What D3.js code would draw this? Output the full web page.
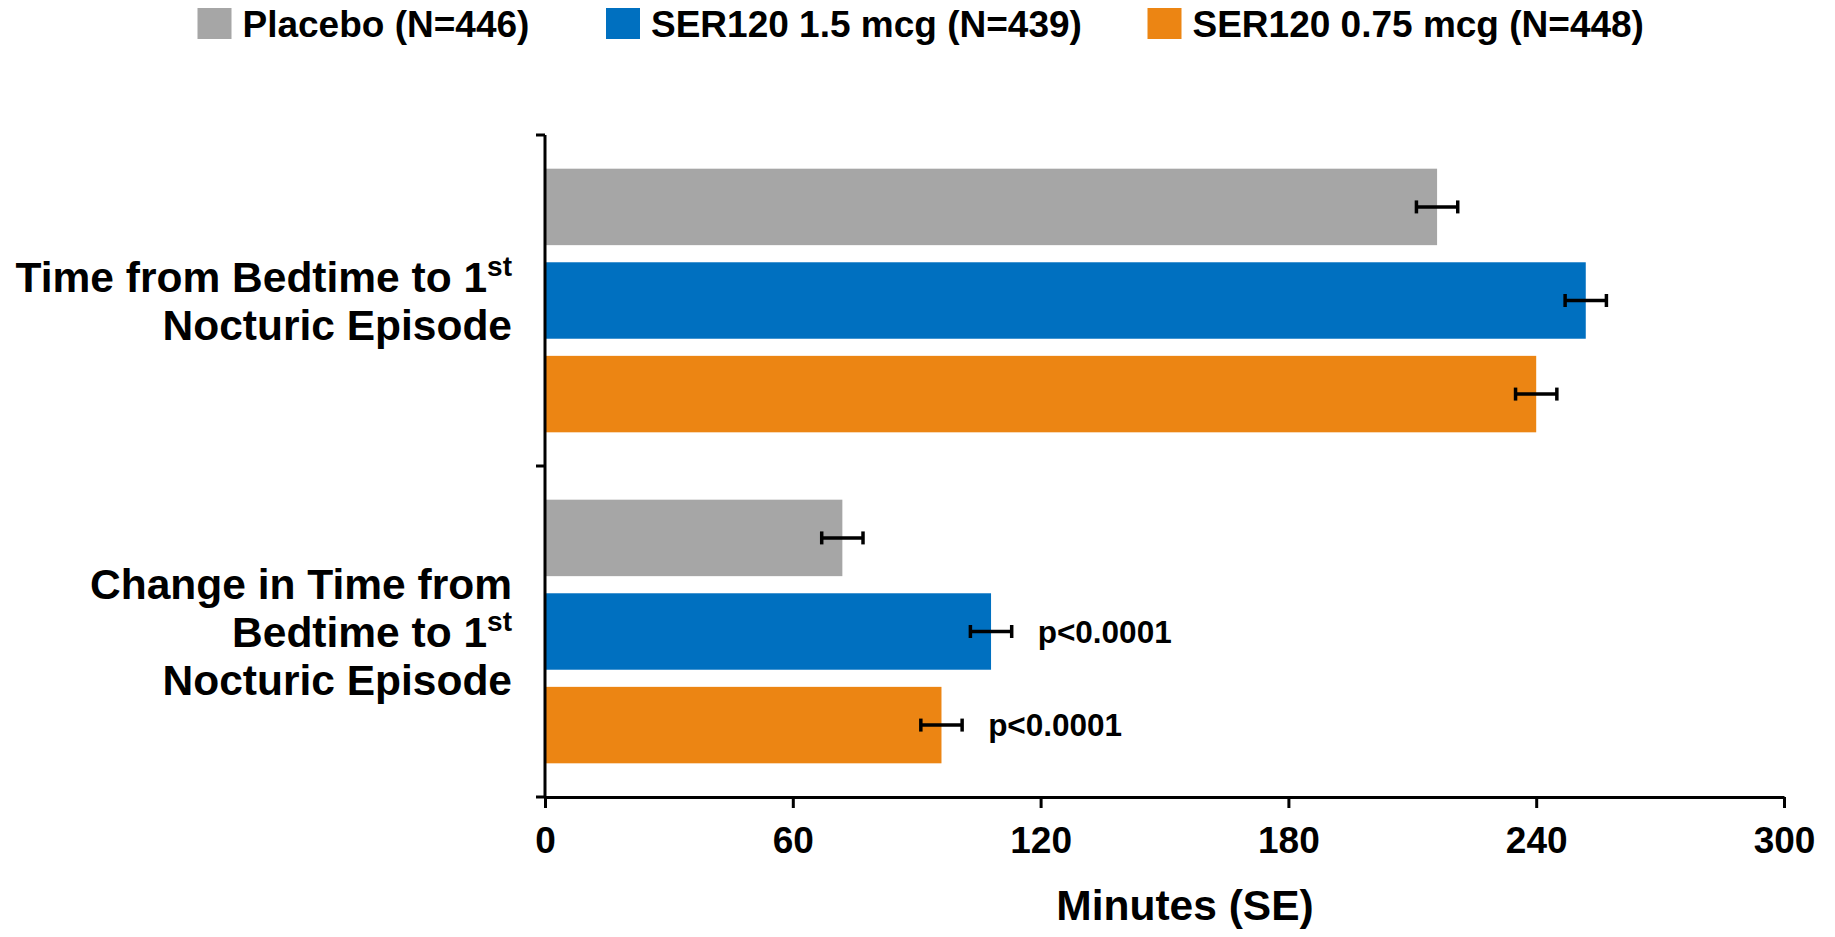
<!DOCTYPE html>
<html>
<head>
<meta charset="utf-8">
<script src="https://cdn.jsdelivr.net/npm/d3@7"></script>
<style>
  body { margin: 0; background: #fff; }
  svg text { font-family: "Liberation Sans", Arial, sans-serif; font-weight: bold; fill: #000; }
</style>
</head>
<body>
<div id="graph"></div>
<script>
// données
const categories = ["first", "change"];
const categoryLines = [
    ["Time from Bedtime to 1st", "Nocturic Episode"],
    ["Change in Time from", "Bedtime to 1st", "Nocturic Episode"]
];
const seriesNames = ["Placebo (N=446)", "SER120 1.5 mcg (N=439)", "SER120 0.75 mcg (N=448)"];
const placebo = [216, 72];
const ser15 = [252, 108];
const ser075 = [240, 96];
const placeboSE = [5, 5];
const ser15SE = [5, 5];
const ser075SE = [5, 5];
const placeboP = ["", ""];
const ser15P = ["", "p<0.0001"];
const ser075P = ["", "p<0.0001"];
const xTicks = [0, 60, 120, 180, 240, 300];
const xTitle = "Minutes (SE)";

const colors = ["#a6a6a6", "#0070c0", "#ec8513"];

const values = [placebo, ser15, ser075];
const errors = [placeboSE, ser15SE, ser075SE];
const pvals = [placeboP, ser15P, ser075P];

let W = 1835, H = 937;
let margin = { top: 135, right: 51, bottom: 140, left: 545 },
    width = W - margin.left - margin.right,
    height = H - margin.top - margin.bottom;

let svg = d3.select("#graph")
    .append("svg")
    .attr("width", W)
    .attr("height", H);

let g = svg.append("g")
    .attr("transform", "translate(" + margin.left + "," + margin.top + ")");

let x = d3.scaleLinear()
    .domain([0, 300])
    .range([0, width]);

let y = d3.scaleBand()
    .domain(categories)
    .range([0, height]);

let ySeries = d3.scaleBand()
    .domain(d3.range(seriesNames.length))
    .range([0, y.bandwidth()])
    .paddingInner(0.183)
    .paddingOuter(0.36);

// rows: one per bar
let rows = [];
categories.forEach((c, ci) => {
    seriesNames.forEach((s, si) => {
        rows.push({ cat: c, si: si, v: values[si][ci], se: errors[si][ci], p: pvals[si][ci] });
    });
});

// bars
g.append("g")
    .selectAll("rect")
    .data(rows)
    .join("rect")
    .attr("x", x(0))
    .attr("y", d => y(d.cat) + ySeries(d.si))
    .attr("width", d => x(d.v) - x(0))
    .attr("height", ySeries.bandwidth())
    .attr("fill", d => colors[d.si]);

// error bars
let capH = 13;
let err = g.append("g")
    .attr("stroke", "#000")
    .attr("stroke-width", 3.5);
rows.forEach(d => {
    let cy = y(d.cat) + ySeries(d.si) + ySeries.bandwidth() / 2;
    err.append("line")
        .attr("x1", x(d.v - d.se)).attr("x2", x(d.v + d.se))
        .attr("y1", cy).attr("y2", cy);
    [d.v - d.se, d.v + d.se].forEach(e => {
        err.append("line")
            .attr("x1", x(e)).attr("x2", x(e))
            .attr("y1", cy - capH / 2).attr("y2", cy + capH / 2);
    });
});

// p values
g.append("g")
    .selectAll("text")
    .data(rows.filter(d => d.p !== ""))
    .join("text")
    .attr("x", d => x(d.v + d.se) + 26)
    .attr("y", d => y(d.cat) + ySeries(d.si) + ySeries.bandwidth() / 2)
    .attr("dy", "0.35em")
    .style("font-size", "31.5px")
    .text(d => d.p);

// X axis
let xAxis = g.append("g")
    .attr("transform", "translate(0," + height + ")")
    .call(d3.axisBottom(x).tickValues(xTicks).tickSize(11).tickPadding(19).tickSizeOuter(0));
xAxis.select(".domain").attr("stroke-width", 3);
xAxis.selectAll(".tick line").attr("stroke-width", 3);
xAxis.selectAll(".tick text")
    .style("font-size", "37px")
    .style("font-family", '"Liberation Sans", Arial, sans-serif');

// Y axis : ticks at band limits
let yAxis = g.append("g");
yAxis.append("line")
    .attr("x1", 0).attr("x2", 0)
    .attr("y1", 0).attr("y2", height)
    .attr("stroke", "#000").attr("stroke-width", 3);
let yLimits = categories.map(c => y(c)).concat([height]);
yAxis.selectAll(".ytick")
    .data(yLimits)
    .join("line")
    .attr("class", "ytick")
    .attr("x1", -9).attr("x2", 0)
    .attr("y1", d => d).attr("y2", d => d)
    .attr("stroke", "#000").attr("stroke-width", 3);

// category labels
let lineH = 48;
categories.forEach((c, ci) => {
    let lines = categoryLines[ci];
    let cy = y(c) + y.bandwidth() / 2;
    lines.forEach((ln, li) => {
        let t = g.append("text")
            .attr("x", -33)
            .attr("y", cy + (li - (lines.length - 1) / 2) * lineH + 15)
            .attr("text-anchor", "end")
            .style("font-size", "42.5px");
        if (ln.endsWith("1st")) {
            t.append("tspan").text(ln.slice(0, -2));
            t.append("tspan")
                .attr("dy", -16)
                .style("font-size", "28px")
                .text("st");
        } else {
            t.text(ln);
        }
    });
});

// axis title
svg.append("text")
    .attr("x", 1185)
    .attr("y", 920)
    .attr("text-anchor", "middle")
    .style("font-size", "42.5px")
    .text(xTitle);

// legend
let legendX = [197.5, 606, 1147.5];
let legend = svg.append("g");
seriesNames.forEach((s, i) => {
    legend.append("rect")
        .attr("x", legendX[i]).attr("y", 8)
        .attr("width", 34).attr("height", 31)
        .attr("fill", colors[i]);
    legend.append("text")
        .attr("x", legendX[i] + 45)
        .attr("y", 37)
        .style("font-size", "37px")
        .text(s);
});
</script>
</body>
</html>
